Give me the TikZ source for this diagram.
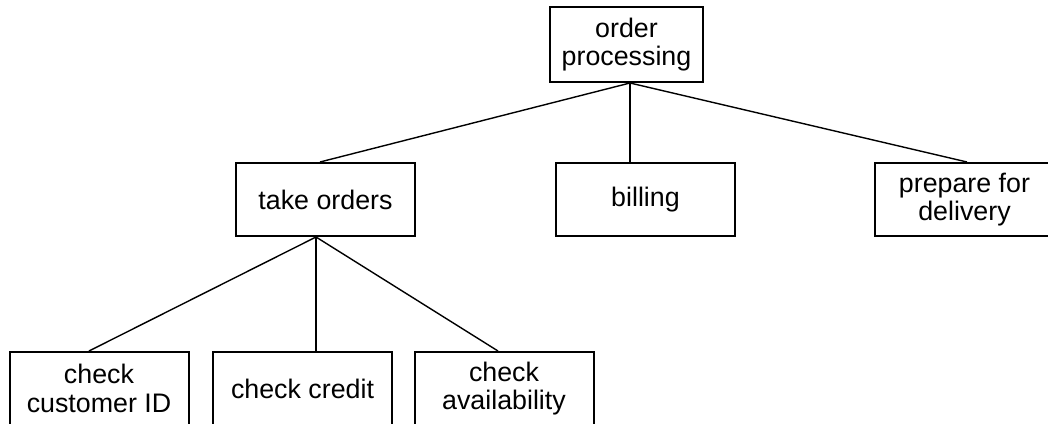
\documentclass[tikz,border=0pt]{standalone}
\usepackage{fontspec}
\setmainfont{Liberation Sans}

\begin{document}
\begin{tikzpicture}[x = 0.5pt, y = -0.5pt, every node/.style = {task}, task/.style = {draw, line width = 1pt, minimum width = 89.5pt, minimum height = 36.5pt, inner sep = 0pt, align = center, font = \fontsize{13.4}{14.2}\selectfont}, link/.style = {line width = 0.7pt}]
        \useasboundingbox (0, 0) rectangle (1048, 423);
        % top level
        \node (order) [minimum width = 76.5pt, minimum height = 37.5pt] at (626.5, 44.5) {order\\processing};
        % second level
        \node (take) at (325.5, 199.5) {take orders};
        \node (billing) at (645.5, 199.5) {billing};
        \node (prepare) at (964.5, 199.5) {prepare for\\delivery};
        % third level, cut off by the page edge
        \node (customer) at (99, 388.5) {check\\customer ID};
        \node (credit) at (302.5, 388.5) {check credit};
        \node (avail) at (504, 388.5) {check\\availability};
        % connectors
        \draw[link] ([xshift = 1.75pt]order.south) -- ([xshift = -2.75pt]take.north);
        \draw[link] ([xshift = 1.75pt]order.south) -- ([xshift = -7.75pt]billing.north);
        \draw[link] ([xshift = 1.75pt]order.south) -- ([xshift = 1.25pt]prepare.north);
        \draw[link] ([xshift = -4.75pt]take.south) -- ([xshift = -5pt]customer.north);
        \draw[link] ([xshift = -4.75pt]take.south) -- ([xshift = 6.75pt]credit.north);
        \draw[link] ([xshift = -4.75pt]take.south) -- ([xshift = -3pt]avail.north);
    \end{tikzpicture}
\end{document}
